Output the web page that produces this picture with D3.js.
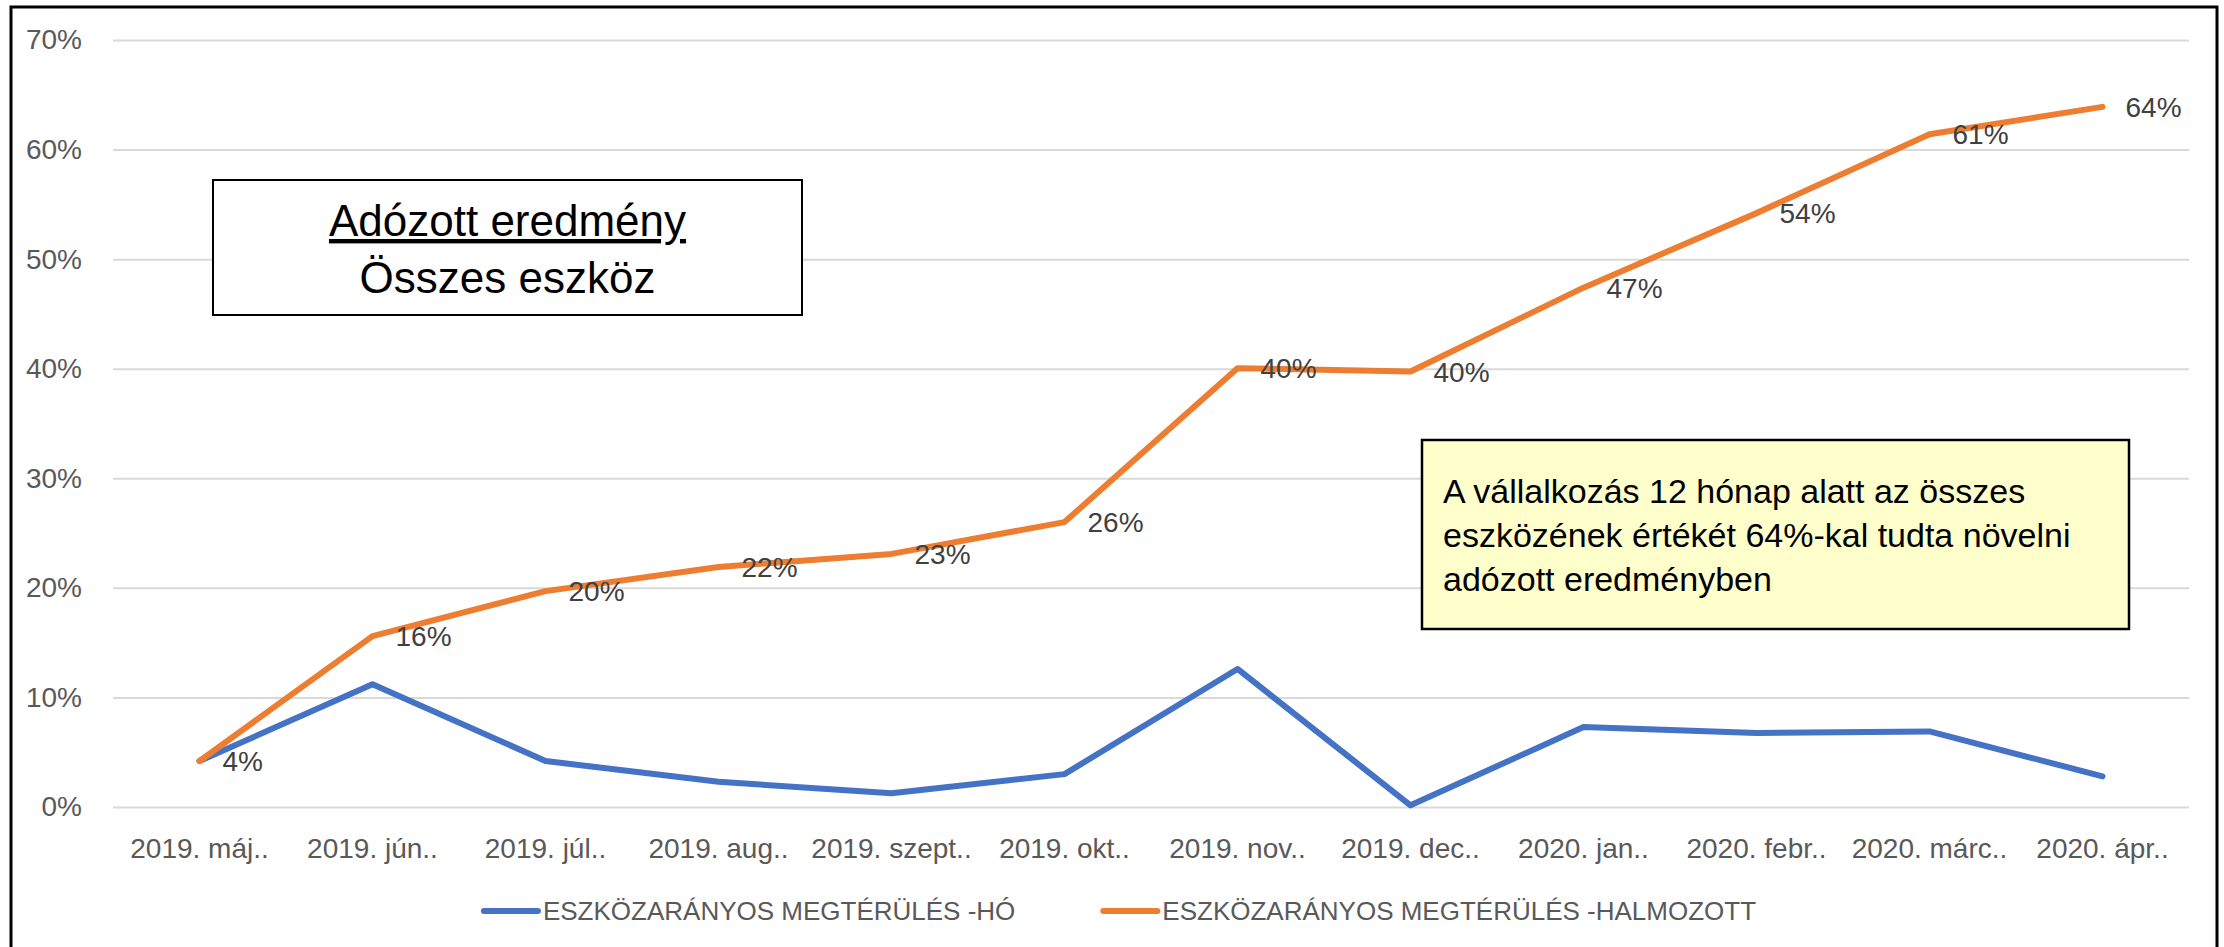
<!DOCTYPE html>
<html lang="hu">
<head>
<meta charset="utf-8">
<title>Eszközarányos megtérülés</title>
<script src="https://cdn.jsdelivr.net/npm/d3@7"></script>
<style>
  body { margin: 0; background: #fff; }
  svg { display: block; font-family: 'Liberation Sans', Arial, sans-serif; }
</style>
</head>
<body>
<script>
// months on the x axis
const months = ['2019. máj..', '2019. jún..', '2019. júl..', '2019. aug..', '2019. szept..', '2019. okt..',
  '2019. nov..', '2019. dec..', '2020. jan..', '2020. febr..', '2020. márc..', '2020. ápr..']

// monthly return on assets (blue) and cumulative (orange)
const monthly = [0.042, 0.112, 0.042, 0.023, 0.0125, 0.030, 0.126, 0.0015, 0.073, 0.0675, 0.069, 0.028]
const cumulative = [0.042, 0.156, 0.197, 0.219, 0.231, 0.260, 0.4005, 0.3975, 0.474, 0.542, 0.614, 0.639]

const yTicks = [0, 0.1, 0.2, 0.3, 0.4, 0.5, 0.6, 0.7]
const seriesNames = ['ESZKÖZARÁNYOS MEGTÉRÜLÉS -HÓ', 'ESZKÖZARÁNYOS MEGTÉRÜLÉS -HALMOZOTT']
const titleLines = ['Adózott eredmény', 'Összes eszköz']
const noteLines = ['A vállalkozás 12 hónap alatt az összes', 'eszközének értékét 64%-kal tudta növelni', 'adózott eredményben']

const width = 2224
const height = 947
const marginLeft = 113
const marginRight = 35
const marginTop = 40
const plotBottom = 807
const colors = ['#4472C4', '#ED7D31']
const pct = d3.format('.0%')

const svg = d3.select('body').append('svg')
  .attr('width', width)
  .attr('height', height)

const x = d3.scaleBand()
  .domain(months)
  .range([marginLeft, width - marginRight])
  .padding(0)

const y = d3.scaleLinear()
  .domain([0, 0.7])
  .range([plotBottom, marginTop])

const cx = d => x(d) + x.bandwidth() / 2

// y axis + gridlines
const leftAxis = svg.append('g')
  .attr('transform', `translate(${marginLeft},0)`)
  .call(d3.axisLeft(y)
    .tickValues(yTicks)
    .tickFormat(pct)
    .tickSizeInner(-(width - marginLeft - marginRight))
    .tickSizeOuter(0)
    .tickPadding(31))
leftAxis.select('.domain').remove()
leftAxis.selectAll('line')
  .attr('stroke', '#d9d9d9')
  .attr('stroke-width', 2)
leftAxis.selectAll('text')
  .attr('fill', '#595959')
  .style('font-size', '28px')
  .style('font-family', null)

// x axis, labels only
const bottomAxis = svg.append('g')
  .attr('transform', `translate(0,${plotBottom})`)
  .call(d3.axisBottom(x).tickSize(0).tickPadding(31))
bottomAxis.select('.domain').remove()
bottomAxis.selectAll('text')
  .attr('fill', '#595959')
  .style('font-size', '28px')
  .style('font-family', null)

// lines
const line = d3.line()
  .x((d, i) => cx(months[i]))
  .y(d => y(d))

const series = [monthly, cumulative]
svg.append('g')
  .selectAll('path')
  .data(series)
  .enter()
  .append('path')
  .attr('d', d => line(d))
  .attr('fill', 'none')
  .attr('stroke', (d, i) => colors[i])
  .attr('stroke-width', 6)
  .attr('stroke-linejoin', 'round')
  .attr('stroke-linecap', 'round')

// data labels on the cumulative series
svg.append('g')
  .selectAll('text')
  .data(cumulative)
  .enter()
  .append('text')
  .attr('x', (d, i) => cx(months[i]) + 23)
  .attr('y', d => y(d))
  .attr('dy', '0.36em')
  .attr('fill', '#404040')
  .style('font-size', '28px')
  .text(d => pct(d))

// title box (top left)
const titleBox = svg.append('g')
titleBox.append('rect')
  .attr('x', 213).attr('y', 180)
  .attr('width', 589).attr('height', 135)
  .attr('fill', '#fff')
  .attr('stroke', '#000')
  .attr('stroke-width', 2)
titleBox.selectAll('text')
  .data(titleLines)
  .enter()
  .append('text')
  .attr('x', 507.5)
  .attr('y', (d, i) => 236 + i * 57)
  .attr('text-anchor', 'middle')
  .attr('fill', '#000')
  .style('font-size', '44px')
  .style('text-decoration', (d, i) => i === 0 ? 'underline' : 'none')
  .text(d => d)

// note box (yellow)
const noteBox = svg.append('g')
noteBox.append('rect')
  .attr('x', 1422).attr('y', 440)
  .attr('width', 707).attr('height', 189)
  .attr('fill', '#FFFFCC')
  .attr('stroke', '#000')
  .attr('stroke-width', 2.5)
noteBox.selectAll('text')
  .data(noteLines)
  .enter()
  .append('text')
  .attr('x', 1443)
  .attr('y', (d, i) => 503 + i * 44)
  .attr('fill', '#000')
  .style('font-size', '34px')
  .text(d => d)

// legend, centred under the plot
const legend = svg.append('g')
const items = legend.selectAll('g')
  .data(seriesNames)
  .enter()
  .append('g')
items.append('line')
  .attr('x1', 0).attr('x2', 54)
  .attr('y1', 0).attr('y2', 0)
  .attr('stroke', (d, i) => colors[i])
  .attr('stroke-width', 6)
  .attr('stroke-linecap', 'round')
items.append('text')
  .attr('x', 59)
  .attr('dy', '0.36em')
  .attr('fill', '#595959')
  .style('font-size', '26px')
  .text(d => d)

let offset = 0
const offsets = []
items.each(function () {
  offsets.push(offset)
  offset += 59 + d3.select(this).select('text').node().getComputedTextLength() + 88
})
const legendWidth = offset - 88
items.attr('transform', (d, i) => `translate(${offsets[i]},0)`)
legend.attr('transform', `translate(${1120 - legendWidth / 2},911)`)

// outer chart border (bottom edge runs off the picture)
svg.append('rect')
  .attr('x', 11).attr('y', 7)
  .attr('width', 2206).attr('height', 1000)
  .attr('fill', 'none')
  .attr('stroke', '#000')
  .attr('stroke-width', 3)
</script>
</body>
</html>
